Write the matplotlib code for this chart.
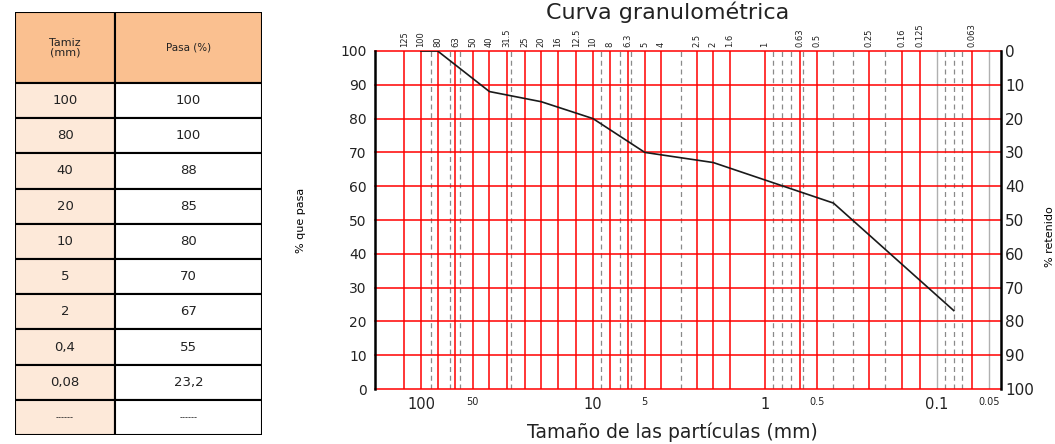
import matplotlib.pyplot as plt
from matplotlib.patches import Rectangle
from matplotlib.ticker import NullLocator

# ---------------- datos del ensayo ----------------
tamiz = [100, 80, 40, 20, 10, 5, 2, 0.4, 0.08]
pasa = [100, 100, 88, 85, 80, 70, 67, 55, 23.2]

# serie de tamices (lineas rojas) y lineas auxiliares
tamices_serie = [125, 100, 80, 63, 50, 40, 31.5, 25, 20, 16, 12.5, 10, 8, 6.3, 5, 4,
                 2.5, 2, 1.6, 1, 0.63, 0.5, 0.25, 0.16, 0.125, 0.063]
tamices_serie_lab = ["125", "100", "80", "63", "50", "40", "31.5", "25", "20", "16",
                     "12.5", "10", "8", "6.3", "5", "4", "2.5", "2", "1.6", "1",
                     "0.63", "0.5", "0.25", "0.16", "0.125", "0.063"]
tamices_aux = [88, 68, 59, 30, 9, 7, 6, 3.1, 0.9, 0.8, 0.71, 0.6, 0.4, 0.31, 0.2,
               0.09, 0.08, 0.072]
tamices_gris = [0.1, 0.05]
ticks_inf = [100, 50, 10, 5, 1, 0.5, 0.1, 0.05]
ticks_inf_lab = ["100", "50", "10", "5", "1", "0.5", "0.1", "0.05"]
ticks_inf_grande = [True, False, True, False, True, False, True, False]
ticks_y = list(range(0, 101, 10))

fig = plt.figure(figsize=(10.55, 4.44), dpi=100)

# ---------------- tabla ----------------
tab = fig.add_axes([15 / 1055, 9 / 444, 247 / 1055, 423 / 444])
tab.set_xlim(0, 247)
tab.set_ylim(423, 0)
tab.axis("off")
x_div, h_head, h_row = 100, 71, 35.2
tab.add_patch(Rectangle((0, 0), x_div, h_head, fc="#FAC090", ec="black", lw=1.5))
tab.add_patch(Rectangle((x_div, 0), 247 - x_div, h_head, fc="#FAC090", ec="black", lw=1.5))
tab.text(x_div / 2, h_head / 2, "Tamiz\n(mm)", ha="center", va="center", fontsize=8,
         linespacing=1.0, color="#222222")
tab.text((x_div + 247) / 2, h_head / 2, "Pasa (%)", ha="center", va="center", fontsize=7.5,
         color="#222222")

def fmt(v):
    return ("%g" % v).replace(".", ",")

filas_t = [fmt(v) for v in tamiz] + ["------"]
filas_p = [fmt(v) for v in pasa] + ["------"]
for i, (a, b) in enumerate(zip(filas_t, filas_p)):
    y0 = h_head + i * h_row
    tab.add_patch(Rectangle((0, y0), x_div, h_row, fc="#FDE9D9", ec="black", lw=1.5))
    tab.add_patch(Rectangle((x_div, y0), 247 - x_div, h_row, fc="white", ec="black", lw=1.5))
    fs = 6 if a == "------" else 9.5
    tab.text(x_div / 2, y0 + h_row / 2, a, ha="center", va="center", fontsize=fs, color="#222222")
    tab.text((x_div + 247) / 2, y0 + h_row / 2, b, ha="center", va="center", fontsize=fs,
             color="#222222")

# ---------------- curva granulometrica ----------------
ax = fig.add_axes([375 / 1055, 55 / 444, 626 / 1055, 338 / 444])
ax.set_xscale("log")
ax.set_xlim(185, 0.0425)
ax.set_ylim(0, 100)

for t in tamices_aux:
    ax.axvline(t, color="#8a8a8a", lw=0.9, dashes=(4, 3), zorder=1)
for t in tamices_gris:
    ax.axvline(t, color="#b0b0b0", lw=1.0, zorder=1)
for t in tamices_serie:
    ax.axvline(t, color="#ff0000", lw=1.1, zorder=2)
for yv in ticks_y:
    ax.axhline(yv, color="#ff0000", lw=1.1, zorder=2, clip_on=False)

ax.plot(tamiz, pasa, color="#1a1a1a", lw=1.2, zorder=4)

for s in ["top", "bottom"]:
    ax.spines[s].set_visible(False)
for s in ["left", "right"]:
    ax.spines[s].set_linewidth(1.8)
    ax.spines[s].set_zorder(5)

ax.xaxis.set_minor_locator(NullLocator())
ax.set_xticks(ticks_inf, labels=ticks_inf_lab)
for lab, grande in zip(ax.get_xticklabels(), ticks_inf_grande):
    lab.set_fontsize(10.5 if grande else 7)
ax.tick_params(axis="x", length=0, pad=6, colors="#222222")
ax.set_yticks(ticks_y)
ax.tick_params(axis="y", length=0, pad=6, labelsize=10, colors="#222222")
ax.set_ylabel("% que pasa", fontsize=8)
ax.yaxis.set_label_coords(-0.11, 0.5)

sec = ax.secondary_xaxis("top")
sec.xaxis.set_minor_locator(NullLocator())
sec.set_xticks(tamices_serie, labels=tamices_serie_lab, rotation=90, fontsize=6)
sec.tick_params(length=0, pad=3, colors="#222222")
sec.spines["top"].set_visible(False)

ax2 = ax.twinx()
ax2.set_ylim(100, 0)
ax2.set_yticks(ticks_y)
ax2.tick_params(axis="y", length=0, pad=3, labelsize=11, colors="#222222")
for s in ["top", "bottom", "left", "right"]:
    ax2.spines[s].set_visible(False)
ax2.set_ylabel("% retenido", fontsize=8)
ax2.yaxis.set_label_coords(1.07, 0.45)

fig.text(668 / 1055, 1 - 12 / 444, "Curva granulométrica", ha="center", va="center",
         fontsize=16, color="#222222")
fig.text(672 / 1055, 1 - 432 / 444, "Tamaño de las partículas (mm)", ha="center",
         va="center", fontsize=13.5, color="#222222")

fig.savefig("out.png", dpi=100)
